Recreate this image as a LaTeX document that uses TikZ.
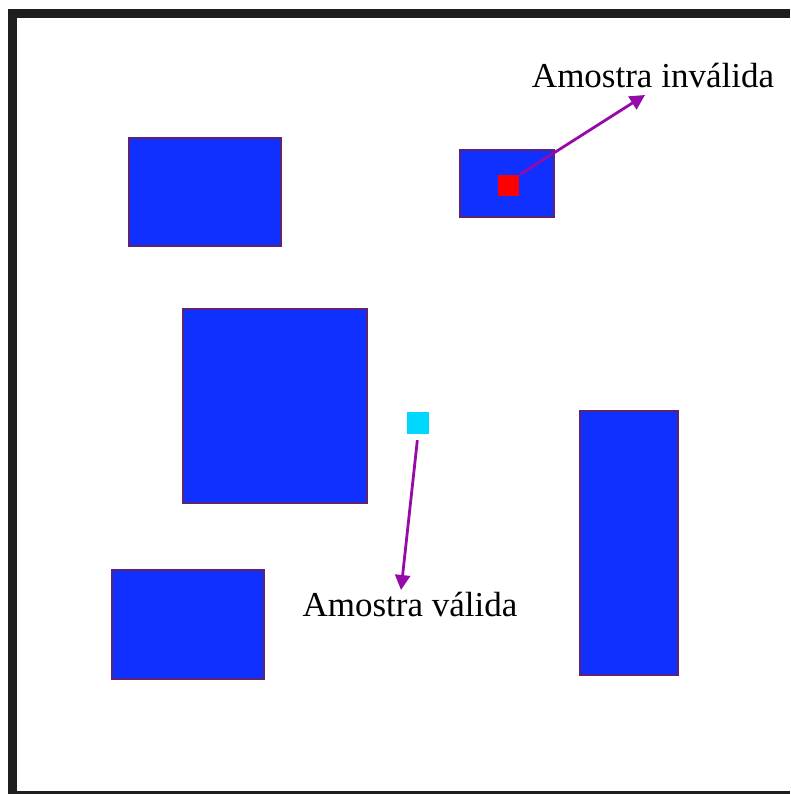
\documentclass[tikz,border=0pt]{standalone}
\usepackage{fontspec}
\setmainfont{Liberation Serif}
\usetikzlibrary{arrows.meta}

\definecolor{obstazul}{RGB}{16,48,255}
\definecolor{obstborda}{RGB}{95,35,115}
\definecolor{setaroxa}{RGB}{150,10,170}
\definecolor{moldura}{RGB}{30,30,30}
\definecolor{amostraok}{RGB}{0,216,255}

\begin{document}
\begin{tikzpicture}[x=1pt, y=-1pt,
    obst/.style = {draw=obstborda, fill=obstazul, line width=1.5pt},
    amostra/.style = {draw=none, inner sep=0pt, minimum size=21pt},
    rotulo/.style = {font=\fontsize{35}{40}\selectfont, inner sep=0pt},
    seta/.style = {draw=setaroxa, line width=2.8pt,
        -{Triangle[length=15pt, width=15pt]}}]
    \useasboundingbox (0,0) rectangle (790,794);

    % moldura do mapa
    \fill[moldura] (8,9) rectangle (790,18);
    \fill[moldura] (8,9) rectangle (17,794);
    \fill[moldura] (8,791) rectangle (790,794);

    % obstaculos
    \draw[obst] (129,138) rectangle (281,246);
    \draw[obst] (460,150) rectangle (554,217);
    \draw[obst] (183,309) rectangle (367,503);
    \draw[obst] (580,411) rectangle (678,675);
    \draw[obst] (112,570) rectangle (264,679);

    % amostras
    \node[amostra, fill=red] (invalida) at (508,186) {};
    \node[amostra, fill=amostraok, minimum size=22pt] (valida) at (418,423) {};

    % rotulos
    \node[rotulo, anchor=base] (txtInv) at (653,88) {Amostra inválida};
    \node[rotulo, anchor=base] (txtVal) at (410,616) {Amostra válida};

    \coordinate (pInv) at (645,95);
    \coordinate (pVal) at (401,590);

    \draw[seta, shorten <=2pt] (invalida.north east) -- (pInv);
    \draw[seta, shorten <=6pt] (valida.south) -- (pVal);
\end{tikzpicture}
\end{document}
